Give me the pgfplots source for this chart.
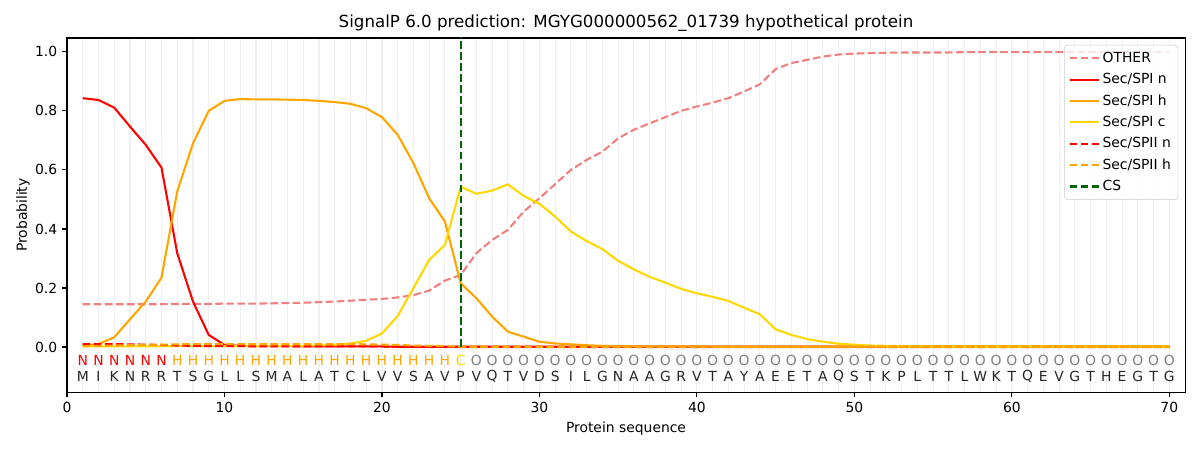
\documentclass[border=0pt]{standalone}
\usepackage{pgfplots}
\pgfplotsset{compat=1.18}
\usepackage{fontspec}
\setmainfont{DejaVu Sans}
\definecolor{lcoral}{RGB}{240,128,128}
\definecolor{morange}{RGB}{255,165,0}
\definecolor{mgold}{RGB}{255,215,0}
\definecolor{dgreen}{RGB}{0,100,0}
\definecolor{gridc}{RGB}{240,240,240}
\definecolor{lgbord}{RGB}{204,204,204}
\begin{document}
\begin{tikzpicture}
\path[use as bounding box] (-48.24pt,-41.76pt) rectangle (815.76pt,282.36pt);
\begin{axis}[
  at={(0,0)}, anchor=south west,
  scale only axis, width=805pt, height=255pt,
  xmin=0, xmax=71, ymin=-0.153, ymax=1.047,
  xtick={0,10,...,70},
  ytick={0,0.2,...,1.0},
  minor xtick={1,...,70},
  xminorgrids, minor grid style={gridc, line width=0.8pt},
  minor tick length=0pt,
  tick align=outside, major tick length=3.5pt,
  tick style={black, line width=0.8pt},
  axis line style={line width=0.8pt},
  xtick pos=bottom, ytick pos=left,
  /pgf/number format/assume math mode=true,
  yticklabel style={/pgf/number format/.cd, fixed, fixed zerofill, precision=1},
  ticklabel style={font=\fontsize{10}{12}\selectfont},
  label style={font=\fontsize{10}{12}\selectfont},
  xlabel={Protein sequence}, ylabel={Probability},
  ylabel style={xshift=0pt, yshift=-3pt},
  title={SignalP 6.0 prediction: MGYG000000562\_01739 hypothetical protein},
  title style={font=\fontsize{12}{14}\selectfont, yshift=-5pt},
  legend cell align=left,
  legend style={at={(rel axis cs:1,1)}, anchor=north east, xshift=-5pt, yshift=-5pt,
    draw=lgbord, rounded corners=2pt, fill=white, fill opacity=0.8, text opacity=1,
    font=\fontsize{10}{12}\selectfont, row sep=2.4pt, inner sep=3pt},
  legend image code/.code={\draw[#1] (0pt,0pt) -- (21pt,0pt);},
  clip=true,
]
% OTHER
\addplot[lcoral, line width=1.5pt, dash pattern=on 5.55pt off 2.4pt] coordinates {
(1,0.145)(2,0.145)(3,0.145)(4,0.145)(5,0.145)(6,0.145)(7,0.146)(8,0.146)(9,0.146)(10,0.147)
(11,0.147)(12,0.147)(13,0.148)(14,0.149)(15,0.150)(16,0.152)(17,0.154)(18,0.157)(19,0.160)(20,0.163)
(21,0.168)(22,0.176)(23,0.191)(24,0.225)(25,0.244)(26,0.318)(27,0.363)(28,0.397)(29,0.459)(30,0.504)
(31,0.552)(32,0.600)(33,0.634)(34,0.662)(35,0.707)(36,0.736)(37,0.758)(38,0.779)(39,0.800)(40,0.815)
(41,0.828)(42,0.843)(43,0.866)(44,0.890)(45,0.942)(46,0.962)(47,0.973)(48,0.984)(49,0.991)(50,0.994)
(51,0.996)(52,0.997)(53,0.998)(54,0.998)(55,0.998)(56,0.998)(57,0.999)(58,0.999)(59,0.999)(60,0.999)
(61,0.999)(62,0.999)(63,0.999)(64,0.999)(65,0.999)(66,0.999)(67,0.999)(68,0.999)(69,0.999)(70,0.999)};
\addlegendentry{OTHER}
% Sec/SPI n
\addplot[red, line width=1.5pt] coordinates {
(1,0.843)(2,0.837)(3,0.811)(4,0.747)(5,0.685)(6,0.608)(7,0.318)(8,0.154)(9,0.041)(10,0.007)
(11,0.004)(12,0.003)(13,0.003)(14,0.003)(15,0.002)(16,0.002)(17,0.002)(18,0.002)(19,0.002)(20,0.002)
(21,0.001)(22,0.001)(23,0.001)(24,0.001)(25,0.001)(26,0.001)(27,0.001)(28,0.001)(29,0.001)(30,0.001)
(31,0.001)(32,0.001)(33,0.001)(34,0.001)(35,0.001)(36,0.001)(37,0.001)(38,0.001)(39,0.001)(40,0.001)
(41,0.001)(42,0.001)(43,0.001)(44,0.001)(45,0.001)(46,0.001)(47,0.001)(48,0.001)(49,0.001)(50,0.001)
(51,0.001)(52,0.001)(53,0.001)(54,0.001)(55,0.001)(56,0.001)(57,0.001)(58,0.001)(59,0.001)(60,0.001)
(61,0.001)(62,0.001)(63,0.001)(64,0.001)(65,0.001)(66,0.001)(67,0.001)(68,0.001)(69,0.001)(70,0.001)};
\addlegendentry{Sec/SPI n}
% Sec/SPI h
\addplot[morange, line width=1.5pt] coordinates {
(1,0.003)(2,0.010)(3,0.033)(4,0.094)(5,0.154)(6,0.235)(7,0.527)(8,0.690)(9,0.800)(10,0.834)
(11,0.840)(12,0.839)(13,0.839)(14,0.838)(15,0.837)(16,0.834)(17,0.830)(18,0.824)(19,0.809)(20,0.779)
(21,0.719)(22,0.623)(23,0.504)(24,0.425)(25,0.216)(26,0.165)(27,0.103)(28,0.052)(29,0.035)(30,0.018)
(31,0.012)(32,0.009)(33,0.006)(34,0.004)(35,0.003)(36,0.002)(37,0.002)(38,0.002)(39,0.002)(40,0.002)
(41,0.001)(42,0.001)(43,0.001)(44,0.001)(45,0.001)(46,0.001)(47,0.001)(48,0.001)(49,0.001)(50,0.001)
(51,0.001)(52,0.001)(53,0.001)(54,0.001)(55,0.001)(56,0.001)(57,0.001)(58,0.001)(59,0.001)(60,0.001)
(61,0.001)(62,0.001)(63,0.001)(64,0.001)(65,0.001)(66,0.001)(67,0.001)(68,0.001)(69,0.001)(70,0.001)};
\addlegendentry{Sec/SPI h}
% Sec/SPI c
\addplot[mgold, line width=1.5pt] coordinates {
(1,0.002)(2,0.002)(3,0.002)(4,0.002)(5,0.002)(6,0.002)(7,0.003)(8,0.003)(9,0.003)(10,0.003)
(11,0.003)(12,0.003)(13,0.003)(14,0.004)(15,0.004)(16,0.005)(17,0.007)(18,0.012)(19,0.021)(20,0.046)
(21,0.105)(22,0.200)(23,0.295)(24,0.346)(25,0.543)(26,0.519)(27,0.530)(28,0.551)(29,0.512)(30,0.485)
(31,0.442)(32,0.391)(33,0.359)(34,0.332)(35,0.292)(36,0.263)(37,0.238)(38,0.218)(39,0.197)(40,0.182)
(41,0.170)(42,0.156)(43,0.133)(44,0.111)(45,0.060)(46,0.041)(47,0.027)(48,0.018)(49,0.011)(50,0.008)
(51,0.005)(52,0.004)(53,0.003)(54,0.003)(55,0.002)(56,0.002)(57,0.002)(58,0.002)(59,0.002)(60,0.002)
(61,0.002)(62,0.002)(63,0.002)(64,0.002)(65,0.002)(66,0.002)(67,0.002)(68,0.002)(69,0.002)(70,0.002)};
\addlegendentry{Sec/SPI c}
% Sec/SPII n
\addplot[red, line width=1.5pt, dash pattern=on 5.55pt off 2.4pt] coordinates {
(1,0.010)(2,0.010)(3,0.010)(4,0.009)(5,0.008)(6,0.007)(7,0.005)(8,0.004)(9,0.003)(10,0.003)
(11,0.003)(12,0.002)(13,0.002)(14,0.002)(15,0.002)(16,0.002)(17,0.002)(18,0.002)(19,0.002)(20,0.002)
(21,0.001)(22,0.001)(23,0.001)(24,0.001)(25,0.000)(26,0.000)(27,0.000)(28,0.000)(29,0.000)(30,0.000)
(31,0.000)(32,0.000)(33,0.000)(34,0.000)(35,0.000)(36,0.000)(37,0.000)(38,0.000)(39,0.000)(40,0.000)
(41,0.000)(42,0.000)(43,0.000)(44,0.000)(45,0.000)(46,0.000)(47,0.000)(48,0.000)(49,0.000)(50,0.000)
(51,0.000)(52,0.000)(53,0.000)(54,0.000)(55,0.000)(56,0.000)(57,0.000)(58,0.000)(59,0.000)(60,0.000)
(61,0.000)(62,0.000)(63,0.000)(64,0.000)(65,0.000)(66,0.000)(67,0.000)(68,0.000)(69,0.000)(70,0.000)};
\addlegendentry{Sec/SPII n}
% Sec/SPII h
\addplot[morange, line width=1.5pt, dash pattern=on 5.55pt off 2.4pt] coordinates {
(1,0.003)(2,0.004)(3,0.005)(4,0.006)(5,0.007)(6,0.008)(7,0.009)(8,0.010)(9,0.010)(10,0.010)
(11,0.010)(12,0.010)(13,0.010)(14,0.010)(15,0.010)(16,0.010)(17,0.010)(18,0.010)(19,0.009)(20,0.008)
(21,0.007)(22,0.005)(23,0.004)(24,0.003)(25,0.001)(26,0.001)(27,0.001)(28,0.001)(29,0.001)(30,0.001)
(31,0.001)(32,0.001)(33,0.001)(34,0.001)(35,0.001)(36,0.001)(37,0.001)(38,0.001)(39,0.001)(40,0.001)
(41,0.001)(42,0.001)(43,0.001)(44,0.001)(45,0.001)(46,0.001)(47,0.001)(48,0.001)(49,0.001)(50,0.001)
(51,0.001)(52,0.001)(53,0.001)(54,0.001)(55,0.001)(56,0.001)(57,0.001)(58,0.001)(59,0.001)(60,0.001)
(61,0.001)(62,0.001)(63,0.001)(64,0.001)(65,0.001)(66,0.001)(67,0.001)(68,0.001)(69,0.001)(70,0.001)};
\addlegendentry{Sec/SPII h}
% CS
\addplot[dgreen, line width=1.5pt, dash pattern=on 5.55pt off 2.4pt] coordinates {(25,0)(25,1.1)};
\addlegendentry{CS}
% region labels
\addplot[draw=none, nodes near coords, point meta=explicit symbolic,
  every node near coord/.style={anchor=center, text=red, font=\fontsize{10}{12}\selectfont}]
  coordinates {(1,-0.047)[N](2,-0.047)[N](3,-0.047)[N](4,-0.047)[N](5,-0.047)[N](6,-0.047)[N]};
\addplot[draw=none, nodes near coords, point meta=explicit symbolic,
  every node near coord/.style={anchor=center, text=morange, font=\fontsize{10}{12}\selectfont}]
  coordinates {(7,-0.047)[H](8,-0.047)[H](9,-0.047)[H](10,-0.047)[H](11,-0.047)[H](12,-0.047)[H]
  (13,-0.047)[H](14,-0.047)[H](15,-0.047)[H](16,-0.047)[H](17,-0.047)[H](18,-0.047)[H]
  (19,-0.047)[H](20,-0.047)[H](21,-0.047)[H](22,-0.047)[H](23,-0.047)[H](24,-0.047)[H]};
\addplot[draw=none, nodes near coords, point meta=explicit symbolic,
  every node near coord/.style={anchor=center, text=mgold, font=\fontsize{10}{12}\selectfont}]
  coordinates {(25,-0.047)[C]};
\addplot[draw=none, nodes near coords, point meta=explicit symbolic,
  every node near coord/.style={anchor=center, text=gray, font=\fontsize{10}{12}\selectfont}]
  coordinates {(26,-0.047)[O](27,-0.047)[O](28,-0.047)[O](29,-0.047)[O](30,-0.047)[O](31,-0.047)[O]
  (32,-0.047)[O](33,-0.047)[O](34,-0.047)[O](35,-0.047)[O](36,-0.047)[O](37,-0.047)[O](38,-0.047)[O]
  (39,-0.047)[O](40,-0.047)[O](41,-0.047)[O](42,-0.047)[O](43,-0.047)[O](44,-0.047)[O](45,-0.047)[O]
  (46,-0.047)[O](47,-0.047)[O](48,-0.047)[O](49,-0.047)[O](50,-0.047)[O](51,-0.047)[O](52,-0.047)[O]
  (53,-0.047)[O](54,-0.047)[O](55,-0.047)[O](56,-0.047)[O](57,-0.047)[O](58,-0.047)[O](59,-0.047)[O]
  (60,-0.047)[O](61,-0.047)[O](62,-0.047)[O](63,-0.047)[O](64,-0.047)[O](65,-0.047)[O](66,-0.047)[O]
  (67,-0.047)[O](68,-0.047)[O](69,-0.047)[O](70,-0.047)[O]};
% amino acids
\addplot[draw=none, nodes near coords, point meta=explicit symbolic,
  every node near coord/.style={anchor=center, text=black!85, font=\fontsize{10}{12}\selectfont}]
  coordinates {(1,-0.1)[M](2,-0.1)[I](3,-0.1)[K](4,-0.1)[N](5,-0.1)[R](6,-0.1)[R](7,-0.1)[T](8,-0.1)[S](9,-0.1)[G](10,-0.1)[L]
  (11,-0.1)[L](12,-0.1)[S](13,-0.1)[M](14,-0.1)[A](15,-0.1)[L](16,-0.1)[A](17,-0.1)[T](18,-0.1)[C](19,-0.1)[L](20,-0.1)[V]
  (21,-0.1)[V](22,-0.1)[S](23,-0.1)[A](24,-0.1)[V](25,-0.1)[P](26,-0.1)[V](27,-0.1)[Q](28,-0.1)[T](29,-0.1)[V](30,-0.1)[D]
  (31,-0.1)[S](32,-0.1)[I](33,-0.1)[L](34,-0.1)[G](35,-0.1)[N](36,-0.1)[A](37,-0.1)[A](38,-0.1)[G](39,-0.1)[R](40,-0.1)[V]
  (41,-0.1)[T](42,-0.1)[A](43,-0.1)[Y](44,-0.1)[A](45,-0.1)[E](46,-0.1)[E](47,-0.1)[T](48,-0.1)[A](49,-0.1)[Q](50,-0.1)[S]
  (51,-0.1)[T](52,-0.1)[K](53,-0.1)[P](54,-0.1)[L](55,-0.1)[T](56,-0.1)[T](57,-0.1)[L](58,-0.1)[W](59,-0.1)[K](60,-0.1)[T]
  (61,-0.1)[Q](62,-0.1)[E](63,-0.1)[V](64,-0.1)[G](65,-0.1)[T](66,-0.1)[H](67,-0.1)[E](68,-0.1)[G](69,-0.1)[T](70,-0.1)[G]};
\end{axis}
\end{tikzpicture}
\end{document}
